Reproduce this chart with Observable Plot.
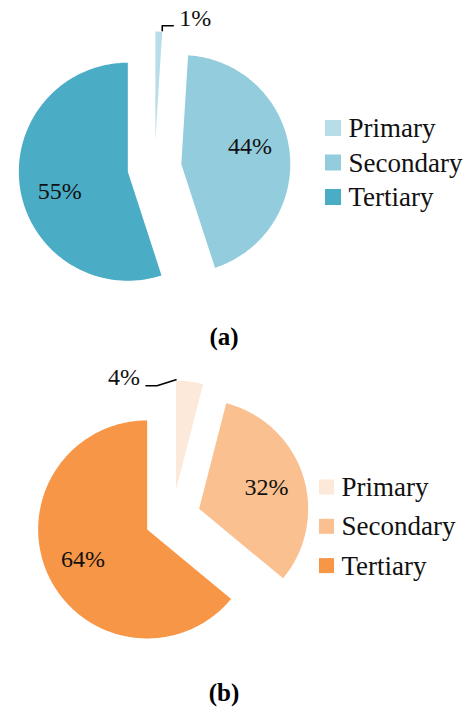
<!DOCTYPE html>
<html><head><meta charset="utf-8">
<script src="https://cdn.jsdelivr.net/npm/d3@7"></script>
<script src="https://cdn.jsdelivr.net/npm/@observablehq/plot@0.6"></script>
<style>
body{margin:0;background:#fff;}
#wrap{width:470px;}
svg{display:block;}
.cap{width:448px;height:30px;line-height:30px;text-align:center;font-family:'Liberation Serif','Times New Roman',serif;font-weight:bold;font-size:25px;color:#000;}
</style></head><body><div id="wrap"></div>
<script>
const categories = ["Primary", "Secondary", "Tertiary"];
const sharesA = [1, 44, 55];
const sharesB = [4, 32, 64];
const labelsA = ["1%", "44%", "55%"];
const labelsB = ["4%", "32%", "64%"];
const coloursA = ["#B7DEE8", "#93CDDD", "#4BACC6"];
const coloursB = ["#FDE9D9", "#FAC090", "#F79646"];
const captions = ["(a)", "(b)"];

const FONT = "Liberation Serif";
const deg = Math.PI / 180;

function slices(values, g) {
  const total = d3.sum(values);
  let acc = 0;
  return values.map((v, i) => {
    const a0 = acc / total * 2 * Math.PI; acc += v;
    const a1 = acc / total * 2 * Math.PI;
    const mid = (a0 + a1) / 2;
    const ax = g.cx + g.e * Math.sin(mid), ay = g.cy - g.e * Math.cos(mid);
    const n = Math.max(2, Math.ceil((a1 - a0) / deg));
    const pts = [{x: ax, y: ay}];
    for (let k = 0; k <= n; k++) {
      const a = a0 + (a1 - a0) * k / n;
      pts.push({x: ax + g.r * Math.sin(a), y: ay - g.r * Math.cos(a)});
    }
    pts.push({x: ax, y: ay});
    return {i, cat: categories[i], v, a0, a1, mid, ax, ay, pts};
  });
}

function chart(values, labels, colours, g) {
  const S = slices(values, g);
  const marks = [];
  S.forEach(s => marks.push(Plot.line(s.pts, {x: "x", y: "y", fill: colours[s.i], stroke: "none"})));
  const big = S.filter(s => s.v >= 10);
  const la = s => s.mid + g.labelRot * deg;
  marks.push(Plot.text(big, {
    x: s => s.ax + g.lr * g.r * Math.sin(la(s)),
    y: s => s.ay - g.lr * g.r * Math.cos(la(s)),
    text: s => labels[s.i], fontSize: 24, fontFamily: FONT, fill: "#111"
  }));
  // small slices: leader + outside label
  S.filter(s => s.v < 10).forEach(s => {
    const a = g.leader.at === "a1" ? s.a1 : s.a0;
    let p = {x: s.ax + (g.r + 1) * Math.sin(a), y: s.ay - (g.r + 1) * Math.cos(a)};
    const path = [p];
    g.leader.moves.forEach(([dx, dy]) => { p = {x: p.x + dx, y: p.y + dy}; path.push(p); });
    marks.push(Plot.line(path, {x: "x", y: "y", stroke: "#000", strokeWidth: 1.6}));
    marks.push(Plot.text([p], {x: d => d.x + g.leader.tdx, y: d => d.y + g.leader.tdy,
      text: () => labels[s.i], textAnchor: g.leader.anchor, fontSize: 24, fontFamily: FONT, fill: "#111"}));
  });
  // legend
  const L = g.legend;
  marks.push(Plot.rect(categories, {
    x1: () => L.x, x2: () => L.x + L.size,
    y1: (d, i) => L.y + i * L.step - L.size / 2, y2: (d, i) => L.y + i * L.step + L.size / 2,
    fill: (d, i) => colours[i]
  }));
  marks.push(Plot.text(categories, {
    x: () => L.x + L.size + 7, y: (d, i) => L.y + i * L.step,
    text: d => d, textAnchor: "start", fontSize: 27, fontFamily: FONT, fill: "#111"
  }));
  return Plot.plot({
    width: 470, height: g.H, margin: 0,
    x: {domain: [0, 470], range: [0, 470], axis: null},
    y: {domain: [0, g.H], range: [0, g.H], axis: null},
    style: {background: "white"},
    marks
  });
}

const wrap = document.getElementById("wrap");
const gA = {H: 322, cx: 154, cy: 167, r: 109, e: 27, lr: 0.65, labelRot: -7,
  leader: {at: "a1", moves: [[0, -5], [11, 0]], tdx: 6, tdy: -7, anchor: "start"},
  legend: {x: 325, y: 128, size: 16, step: 34.5}};
const gB = {H: 326, cx: 172, cy: 165, r: 109, e: 28, lr: 0.65, labelRot: 0,
  leader: {at: "a0", moves: [[-19, 6], [-11, 0]], tdx: -6, tdy: -8, anchor: "end"},
  legend: {x: 319, y: 135, size: 15, step: 39.3}};

wrap.appendChild(chart(sharesA, labelsA, coloursA, gA));
const c1 = document.createElement("div"); c1.className = "cap"; c1.textContent = captions[0]; wrap.appendChild(c1);
wrap.appendChild(chart(sharesB, labelsB, coloursB, gB));
const c2 = document.createElement("div"); c2.className = "cap"; c2.textContent = captions[1]; wrap.appendChild(c2);
</script>
</body></html>
